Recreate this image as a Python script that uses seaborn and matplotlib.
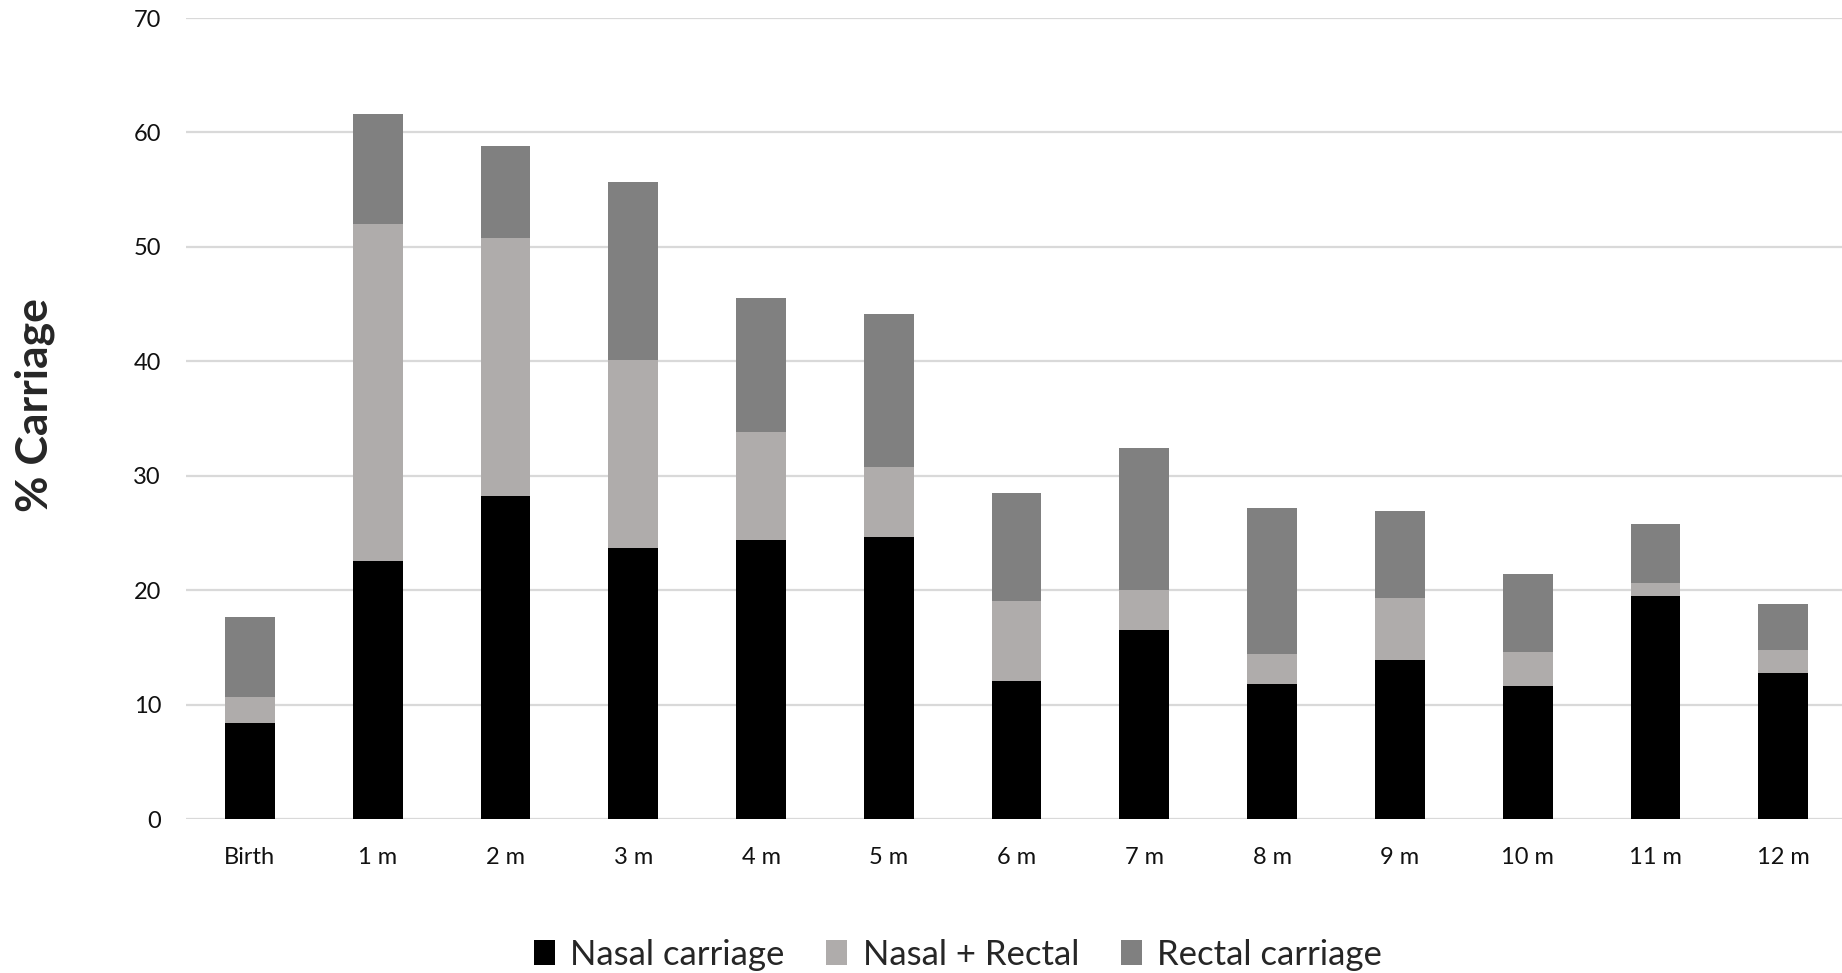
import numpy as np
import pandas as pd
import matplotlib
matplotlib.use("Agg")
import matplotlib.pyplot as plt
from matplotlib.patches import Patch
import seaborn as sns

categories = ["Birth", "1 m", "2 m", "3 m", "4 m", "5 m", "6 m", "7 m", "8 m", "9 m", "10 m", "11 m", "12 m"]
nasal = [8.4, 22.6, 28.2, 23.7, 24.4, 24.7, 12.1, 16.5, 11.8, 13.9, 11.6, 19.5, 12.8]
nasal_rectal = [2.3, 29.4, 22.6, 16.4, 9.4, 6.1, 7.0, 3.5, 2.6, 5.45, 3.0, 1.1, 2.0]
rectal = [7.0, 9.6, 8.0, 15.6, 11.7, 13.3, 9.4, 12.4, 12.8, 7.55, 6.85, 5.2, 4.0]
series_names = ["Nasal carriage", "Nasal + Rectal", "Rectal carriage"]
colors = ["#000000", "#AFACAB", "#808080"]

sns.set_theme(style="white")
plt.rcParams['font.family'] = ['Lato', 'DejaVu Sans']

df = pd.DataFrame({"cat": categories, "nasal": nasal, "nr": nasal_rectal, "rectal": rectal})
df["lvl1"] = df["nasal"]
df["lvl2"] = df["nasal"] + df["nr"]
df["lvl3"] = df["lvl2"] + df["rectal"]

fig = plt.figure(figsize=(18.42, 9.73), dpi=100)
ax = fig.add_axes([0.101, 0.158, 0.899, 0.8235])

for col, c in zip(["lvl3", "lvl2", "lvl1"], [colors[2], colors[1], colors[0]]):
    sns.barplot(data=df, x="cat", y=col, color=c, width=0.39, saturation=1,
                ax=ax, order=categories, linewidth=0, zorder=3)

ax.set_ylim(0, 70)
ax.set_xlim(-0.5, 12.46)
ax.set_yticks(np.arange(0, 71, 10))
ax.yaxis.grid(True, color="#D9D9D9", linewidth=1.6, zorder=0)
ax.set_axisbelow(True)
for s in ax.spines.values():
    s.set_visible(False)
ax.tick_params(axis="y", length=0, pad=18, labelsize=17, labelcolor="#111111")
ax.tick_params(axis="x", length=0, pad=20, labelsize=17, labelcolor="#111111")
ax.set_xlabel("")
ax.set_ylabel("% Carriage", fontsize=32, fontweight="bold")
ax.yaxis.set_label_coords(-0.079, 0.517)

handles = [Patch(facecolor=c, edgecolor="none") for c in colors]
fig.legend(handles, series_names, loc="center", bbox_to_anchor=(0.52, 0.019),
           ncol=3, frameon=False, fontsize=25, handlelength=0.6, handleheight=0.7,
           handletextpad=0.45, columnspacing=1.2)

fig.savefig("out.png", dpi=100)
